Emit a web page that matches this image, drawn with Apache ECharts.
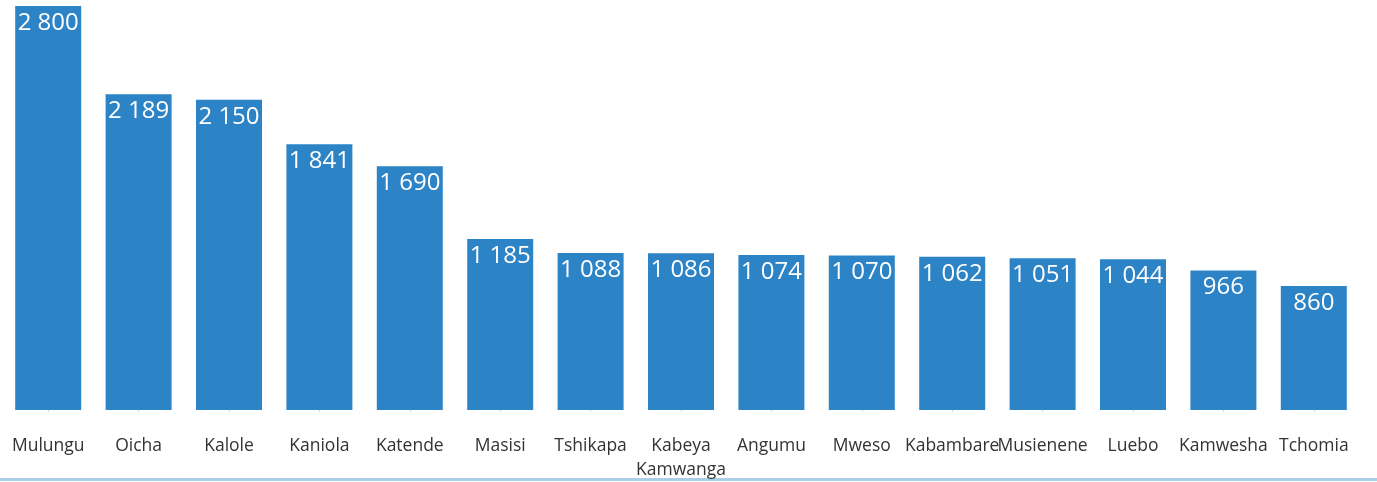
<!DOCTYPE html>
<html>
<head>
<meta charset="utf-8" />
<title>Chart</title>
<script src="https://cdn.jsdelivr.net/npm/echarts@6/dist/echarts.min.js"></script>
<style>
  html, body { margin: 0; padding: 0; background: #fff; }
  #chart { width: 1377px; height: 482px; }
</style>
</head>
<body>
<div id="chart"></div>
<script>
var places = ['Mulungu', 'Oicha', 'Kalole', 'Kaniola', 'Katende', 'Masisi', 'Tshikapa',
  'Kabeya\nKamwanga', 'Angumu', 'Mweso', 'Kabambare', 'Musienene', 'Luebo', 'Kamwesha', 'Tchomia'];
var counts = [2800, 2189, 2150, 1841, 1690, 1185, 1088, 1086, 1074, 1070, 1062, 1051, 1044, 966, 860];

// 2800 -> "2 800"
function fmt(v) {
  return String(v).replace(/\B(?=(\d{3})+(?!\d))/g, ' ');
}

var chart = echarts.init(document.getElementById('chart'));
chart.setOption({
  animation: false,
  textStyle: { fontFamily: '"Open Sans", sans-serif' },
  grid: { left: 3, right: 18, top: 6, bottom: 72 },
  xAxis: {
    type: 'category',
    data: places,
    axisLine: { show: false },
    axisTick: { show: true, alignWithLabel: true, length: 2, lineStyle: { color: '#ddd' } },
    axisLabel: { color: '#333', fontSize: 17.5, margin: 24, lineHeight: 24, interval: 0 }
  },
  yAxis: {
    type: 'value',
    min: 0,
    max: 2800,
    show: false,
    splitLine: { show: false }
  },
  series: [{
    type: 'bar',
    data: counts,
    barWidth: '73%',
    itemStyle: { color: '#2c83c6' },
    label: {
      show: true,
      position: 'insideTop',
      distance: 5,
      color: '#fff',
      fontSize: 24,
      formatter: function (p) { return fmt(p.value); }
    }
  }],
  graphic: [{
    type: 'rect',
    left: 0,
    top: 478,
    shape: { width: 1377, height: 3 },
    style: { fill: '#a8cfe8' }
  }]
});
</script>
</body>
</html>
